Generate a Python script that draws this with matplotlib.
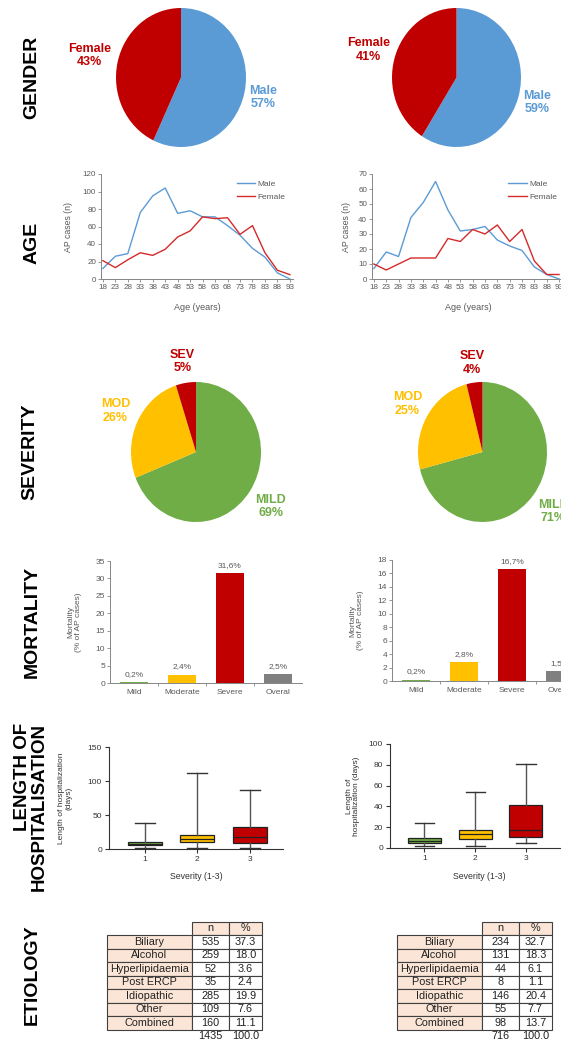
import numpy as np
import matplotlib.pyplot as plt

plt.rcParams['font.family'] = ['Liberation Sans', 'DejaVu Sans']

W, H = 561, 1041

# --- gender split (%) ---
gender_labels = ['Male', 'Female']
gender_left = [57, 43]
gender_right = [59, 41]

# --- age distribution (AP cases per 5-year group) ---
age_groups = [18, 23, 28, 33, 38, 43, 48, 53, 58, 63, 68, 73, 78, 83, 88, 93]
age_male_left = [12, 26, 29, 76, 95, 104, 75, 78, 71, 71, 61, 50, 35, 25, 7, 0]
age_female_left = [21, 13, 22, 30, 27, 34, 48, 55, 71, 69, 70, 51, 61, 30, 10, 5]
age_male_right = [7, 18, 15, 41, 51, 65, 46, 32, 33, 35, 26, 22, 19, 8, 3, 0]
age_female_right = [10, 6, 10, 14, 14, 14, 27, 25, 33, 30, 36, 25, 33, 12, 3, 3]

# --- severity split (%) ---
severity_labels = ['MILD', 'MOD', 'SEV']
severity_left = [69, 26, 5]
severity_right = [71, 25, 4]

# --- mortality (% of AP cases) ---
mort_cats = ['Mild', 'Moderate', 'Severe', 'Overal']
mort_left = [0.2, 2.4, 31.6, 2.5]
mort_right = [0.2, 2.8, 16.7, 1.5]

# --- length of stay: whisker low, q1, median, q3, whisker high (days) ---
los_groups = [1, 2, 3]
los_left = [(2, 6, 8, 10, 38), (2, 11, 15, 20, 112), (1, 9, 17, 32, 87)]
los_right = [(2, 5, 7, 10, 24), (2, 9, 13, 17, 54), (5, 11, 17, 41, 81)]

# --- etiology ---
etiology = ['Biliary', 'Alcohol', 'Hyperlipidaemia', 'Post ERCP',
            'Idiopathic', 'Other', 'Combined']
etio_n_left = [535, 259, 52, 35, 285, 109, 160]
etio_pct_left = [37.3, 18.0, 3.6, 2.4, 19.9, 7.6, 11.1]
etio_n_right = [234, 131, 44, 8, 146, 55, 98]
etio_pct_right = [32.7, 18.3, 6.1, 1.1, 20.4, 7.7, 13.7]

BLUE = '#5B9BD5'
RED = '#C00000'
LINE_RED = '#D42A2A'
GREEN = '#70AD47'
YELLOW = '#FFC000'
GREY = '#808080'
PEACH = '#FBE5D6'
AXIS_C = '#868686'
TEXT_C = '#595959'

fig = plt.figure(figsize=(W / 100, H / 100), dpi=100)


def px_axes(x0, y0, x1, y1):
    # axes placed in pixel coordinates (origin top-left)
    return fig.add_axes([x0 / W, 1 - y1 / H, (x1 - x0) / W, (y1 - y0) / H])


def row_title(x, y, text, size=14):
    fig.text(x / W, 1 - y / H, text, rotation=90, ha='center', va='center',
             fontsize=size, fontweight='bold', multialignment='right',
             linespacing=0.95)


def pie_panel(rect, values, labels, colors, dists):
    ax = px_axes(*rect)
    wedges, _ = ax.pie(values, colors=colors, startangle=90,
                       counterclock=False, radius=1)
    ax.set_aspect('auto')
    ax.set_xlim(-1, 1)
    ax.set_ylim(-1, 1)
    for w, lab, v, c, d in zip(wedges, labels, values, colors, dists):
        ang = np.deg2rad((w.theta1 + w.theta2) / 2)
        ax.text(d * np.cos(ang), d * np.sin(ang), f"{lab}\n{v}%", color=c,
                ha='center', va='center', fontsize=9, fontweight='bold',
                linespacing=1.15)


def excel_axes(ax):
    for s in ['top', 'right']:
        ax.spines[s].set_visible(False)
    for s in ['left', 'bottom']:
        ax.spines[s].set_color(AXIS_C)
        ax.spines[s].set_linewidth(0.7)
    ax.tick_params(colors=AXIS_C, labelcolor=TEXT_C, length=2, width=0.6,
                   labelsize=5.8, pad=1.5)


def age_panel(rect, male, female, ymax, ystep, xmax, ylab_x):
    ax = px_axes(*rect)
    x = np.arange(len(age_groups))
    ax.plot(x, male, color=BLUE, lw=1.0, label='Male')
    ax.plot(x, female, color=LINE_RED, lw=1.0, label='Female')
    ax.set_xlim(-0.15, xmax)
    ax.set_ylim(0, ymax)
    ax.set_yticks(np.arange(0, ymax + 1, ystep))
    ax.set_xticks(x)
    ax.set_xticklabels([str(a) for a in age_groups])
    excel_axes(ax)
    ax.set_ylabel('AP cases (n)', fontsize=6.3, color=TEXT_C)
    ax.yaxis.set_label_coords(ylab_x, 0.5)
    ax.set_xlabel('Age (years)', fontsize=6.5, color=TEXT_C)
    ax.xaxis.set_label_coords(0.5, -0.23)
    leg = ax.legend(loc='upper left', bbox_to_anchor=(0.706, 0.945),
                    frameon=False, fontsize=6, handlelength=2.2,
                    handletextpad=0.3, labelspacing=0.7, borderpad=0,
                    borderaxespad=0)
    for t in leg.get_texts():
        t.set_color(TEXT_C)


def mortality_panel(rect, vals, ymax, ystep, ylab_x):
    ax = px_axes(*rect)
    x = np.arange(len(mort_cats))
    bars = ax.bar(x, vals, width=0.58, color=[GREEN, YELLOW, RED, GREY])
    ax.bar_label(bars, labels=[f"{v:.1f}%".replace('.', ',') for v in vals],
                 padding=3, fontsize=6, color=TEXT_C)
    ax.set_xlim(-0.5, 3.5)
    ax.set_ylim(0, ymax)
    ax.set_yticks(np.arange(0, ymax + 0.1, ystep))
    ax.set_xticks(x)
    ax.set_xticklabels(mort_cats)
    ax.set_xticks(x[:-1] + 0.5, minor=True)
    excel_axes(ax)
    ax.tick_params(axis='x', which='major', length=0, pad=4, labelsize=6)
    ax.tick_params(axis='x', which='minor', length=2.5, width=0.6,
                   color=AXIS_C)
    ax.tick_params(axis='y', labelsize=6)
    ax.set_ylabel('Mortality\n(% of AP cases)', fontsize=6, color=TEXT_C,
                  linespacing=1.1)
    ax.yaxis.set_label_coords(ylab_x, 0.5)


def los_panel(rect, boxes, ymax, ystep, xmax, ylabel, ylab_x):
    ax = px_axes(*rect)
    stats = [dict(whislo=a, q1=b, med=c, q3=d, whishi=e, fliers=[])
             for a, b, c, d, e in boxes]
    bp = ax.bxp(stats, positions=los_groups, widths=0.65, capwidths=0.38,
                patch_artist=True, showfliers=False,
                boxprops=dict(edgecolor='#222222', linewidth=0.9),
                medianprops=dict(color='#222222', linewidth=0.9),
                whiskerprops=dict(color='#555555', linewidth=1.0),
                capprops=dict(color='#333333', linewidth=1.0))
    for patch, col in zip(bp['boxes'], [GREEN, YELLOW, RED]):
        patch.set_facecolor(col)
    ax.set_xlim(0.32, xmax)
    ax.set_ylim(0, ymax)
    ax.set_yticks(np.arange(0, ymax + 1, ystep))
    for s in ['top', 'right']:
        ax.spines[s].set_visible(False)
    for s in ['left', 'bottom']:
        ax.spines[s].set_color('#333333')
        ax.spines[s].set_linewidth(0.8)
    ax.tick_params(colors='#333333', labelcolor='#333333', length=3,
                   width=0.8, labelsize=6, pad=2)
    ax.set_xlabel('Severity (1-3)', fontsize=6.3, color='#333333')
    ax.xaxis.set_label_coords(0.5, -0.23)
    ax.set_ylabel(ylabel, fontsize=6, color='#333333', linespacing=1.05)
    ax.yaxis.set_label_coords(ylab_x, 0.5)


def etiology_panel(rect, counts, pcts):
    ax = px_axes(*rect)
    ax.axis('off')
    total = sum(counts)
    rows = [['', 'n', '%']]
    rows += [[lab, str(n), f"{p:.1f}"] for lab, n, p in zip(etiology, counts, pcts)]
    rows += [['', str(total), f"{100 * total / total:.1f}"]]
    widths = np.array([85, 37, 33], dtype=float)
    tab = ax.table(cellText=rows, colWidths=list(widths / widths.sum()),
                   cellLoc='center', bbox=[0, 0, 1, 1])
    tab.auto_set_font_size(False)
    tab.set_fontsize(7.8)
    last = len(rows) - 1
    for (r, c), cell in tab.get_celld().items():
        cell.set_edgecolor('#404040')
        cell.set_linewidth(0.8)
        cell.get_text().set_color('#222222')
        if (r == 0 and c == 0) or r == last:
            cell.visible_edges = 'open'
            cell.set_facecolor('none')
        elif r == 0 or c == 0:
            cell.set_facecolor(PEACH)
        else:
            cell.set_facecolor('white')


# row titles
row_title(32, 77, 'GENDER')
row_title(32, 243, 'AGE')
row_title(30, 452, 'SEVERITY')
row_title(32, 622, 'MORTALITY')
row_title(31, 807, 'LENGTH OF\nHOSPITALISATION', size=13.5)
row_title(32, 975, 'ETIOLOGY')

# gender pies
pie_panel((116, 8, 246, 147), gender_left, gender_labels, [BLUE, RED], [1.3, 1.44])
pie_panel((392, 8, 521, 147), gender_right, gender_labels, [BLUE, RED], [1.3, 1.42])

# age lines
age_panel((101, 174, 293, 279), age_male_left, age_female_left, 120, 20, 15.25, -0.146)
age_panel((372, 174, 565, 279), age_male_right, age_female_right, 70, 10, 15.48, -0.109)

# severity pies
sev_colors = [GREEN, YELLOW, RED]
pie_panel((131, 382, 261, 522), severity_left, severity_labels, sev_colors, [1.39, 1.37, 1.31])
pie_panel((418, 382, 547, 522), severity_right, severity_labels, sev_colors, [1.39, 1.35, 1.28])

# mortality bars
mortality_panel((110, 561, 302, 683), mort_left, 35, 5, -0.148)
mortality_panel((392, 560, 584, 681), mort_right, 18, 2, -0.146)

# length of stay boxes
los_panel((109, 747, 283, 849), los_left, 150, 50, 3.63,
          'Length of hospitalization\n(days)', -0.21)
los_panel((390, 744, 569, 848), los_right, 100, 20, 3.85,
          'Length of\nhospitalization (days)', -0.165)

# etiology tables
etiology_panel((107, 921.5, 262, 1043), etio_n_left, etio_pct_left)
etiology_panel((397, 921.5, 552, 1043), etio_n_right, etio_pct_right)

fig.savefig('out.png', dpi=100, facecolor='white')
